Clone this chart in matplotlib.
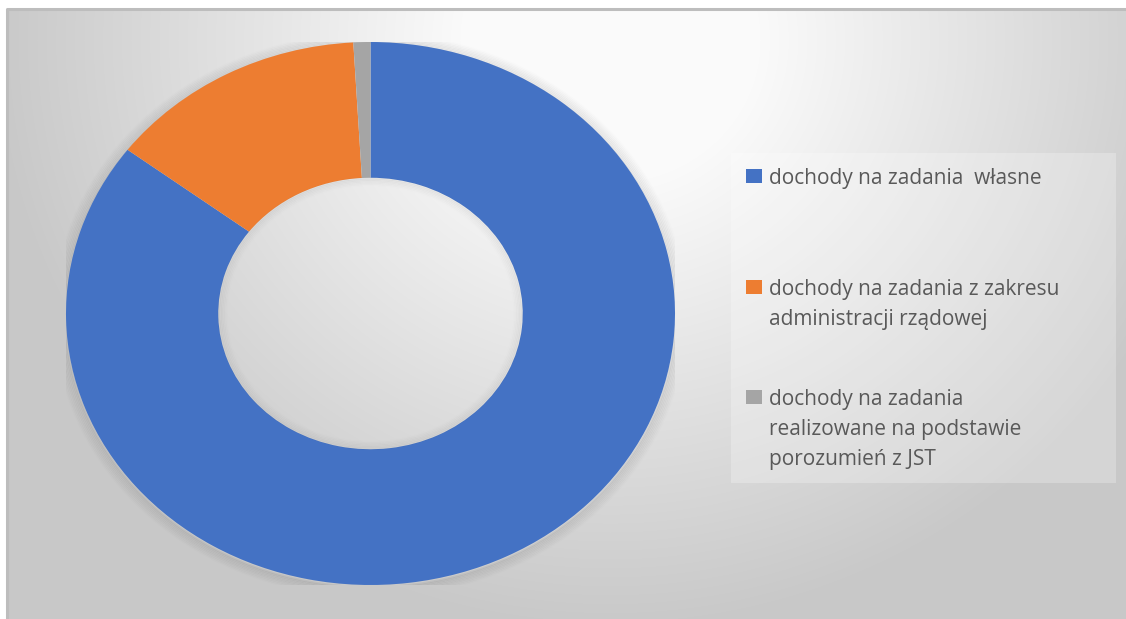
import numpy as np
import matplotlib.pyplot as plt
from matplotlib.patches import Ellipse, Rectangle

# data
labels = [
    "dochody na zadania  własne",
    "dochody na zadania z zakresu\nadministracji rządowej",
    "dochody na zadania\nrealizowane na podstawie\nporozumień z JST",
]
values = [85.3, 13.8, 0.9]
colors = ["#4472C4", "#ED7D31", "#A5A5A5"]

W, H = 1126, 619
fig = plt.figure(figsize=(W / 100, H / 100), dpi=100)
fig.patch.set_facecolor("white")


def fx(px):
    return px / W


def fy(py):
    return 1 - py / H


# ── background with soft radial gradient ─────────────────────────────────
bx0, by0 = 7, 9
bg = fig.add_axes([fx(bx0), 0, fx(W - bx0), (H - by0) / H])
yy, xx = np.mgrid[by0:H, bx0:W]
d = np.hypot((xx - 610) * 1.0, (yy - 40) * 1.05)
v = 250 - (d - 150) * 50 / 470
v = np.clip(v, 200, 250) / 255
bg.imshow(np.dstack([v, v, v]), aspect="auto", extent=[0, 1, 0, 1],
          interpolation="bilinear")
bg.set_xlim(0, 1)
bg.set_ylim(0, 1)
bg.axis("off")
bg.plot([0, 0, 1], [0, 1, 1], color="#bdbdbd", lw=2.2, transform=bg.transAxes,
        clip_on=False)

# ── donut ────────────────────────────────────────────────────────────────
left, right, top, bottom = 66, 675, 42, 585
ax = fig.add_axes([fx(left), fy(bottom), fx(right - left), (bottom - top) / H])

# soft shadow just outside the ring
for k in range(8):
    r = 1.0 + 0.005 * (k + 0.5)
    ax.add_patch(Ellipse((0.0, -0.006), 2 * r, 2 * r, fill=False,
                         edgecolor="black", alpha=0.06 * (1 - k / 8),
                         lw=1.6, zorder=0))

ax.pie(values, colors=colors, startangle=90, counterclock=False,
       radius=1.0, wedgeprops=dict(width=0.5, linewidth=0))

# faint inner shading of the hole
for k in range(6):
    r = 0.5 - 0.005 * (k + 0.5)
    ax.add_patch(Ellipse((0.0, 0.0), 2 * r, 2 * r, fill=False,
                         edgecolor="black", alpha=0.035 * (1 - k / 6),
                         lw=1.6, zorder=5))

ax.set_aspect("auto")
ax.set_xlim(-1, 1)
ax.set_ylim(-1, 1)
ax.axis("off")

# ── legend ───────────────────────────────────────────────────────────────
fig.patches.append(Rectangle((fx(731), fy(483)), fx(1116 - 731), (483 - 153) / H,
                             transform=fig.transFigure, facecolor="white",
                             alpha=0.25, lw=0, zorder=1))

first_line_y = [176, 287, 397]
line_pitch = 30
for lab, col, y0 in zip(labels, colors, first_line_y):
    fig.patches.append(Rectangle((fx(746), fy(y0 + 7)), fx(16), 14 / H,
                                 transform=fig.transFigure, facecolor=col,
                                 lw=0, zorder=3))
    for i, line in enumerate(lab.split("\n")):
        fig.text(fx(769), fy(y0 + i * line_pitch), line, ha="left",
                 va="center_baseline", fontsize=15, color="#595959",
                 family="Open Sans", zorder=4)

fig.savefig("out.png", dpi=100)
